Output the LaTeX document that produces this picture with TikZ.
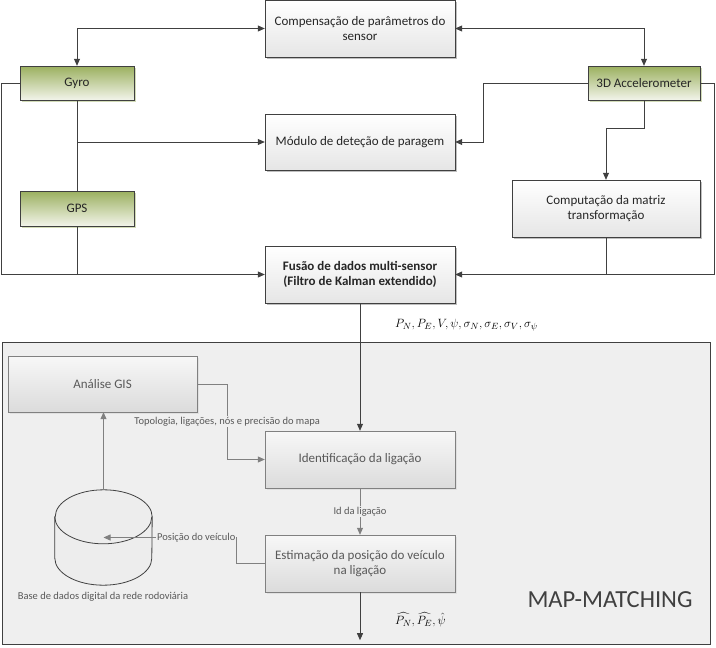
\documentclass[tikz,border=0pt]{standalone}
\usepackage{fontspec}
\setmainfont{Carlito}
\usepackage{amsmath}
\usetikzlibrary{arrows.meta,shadows}
\definecolor{linha}{HTML}{404040}
\definecolor{cinza}{HTML}{808080}
\definecolor{oliva}{HTML}{9BB05F}
\definecolor{olivaclaro}{HTML}{F2F4EA}
\definecolor{fundo}{HTML}{EFEFEF}
\tikzset{
    bloco/.style={draw=linha, top color=white, bottom color=black!10, text=black!85,
        minimum width=190pt, minimum height=57pt, align=center, font=\fontsize{13}{15.5}\selectfont,
        drop shadow={shadow xshift=2pt, shadow yshift=-2pt, fill=black!25, opacity=1}}, % caixas principais
    sensor/.style={bloco, top color=oliva, bottom color=olivaclaro, minimum width=114pt, minimum height=34pt,
        drop shadow={shadow xshift=2pt, shadow yshift=-2pt, fill=oliva!45, opacity=1}}, % sensores
    interno/.style={bloco, draw=cinza, top color=black!3, bottom color=black!14, text=black!65,
        drop shadow={shadow xshift=2pt, shadow yshift=-2pt, fill=black!12, opacity=1}}, % caixas do map-matching
    seta/.style={draw=linha, thick, -{Triangle[length=7pt,width=6pt]}},
    dupla/.style={draw=linha, thick, {Triangle[length=7pt,width=6pt]}-{Triangle[length=7pt,width=6pt]}},
    linha/.style={draw=linha, thick},
    gseta/.style={draw=cinza, thick, -{Triangle[length=7pt,width=6pt]}},
    rotulo/.style={fill=fundo, inner sep=1pt, text=black!65, font=\fontsize{10.5}{12}\selectfont},
    formula/.style={anchor=west, inner sep=0pt, font=\fontsize{13}{15}\selectfont}
}

\begin{document}
\begin{tikzpicture}[x=1pt, y=-1pt]
    \useasboundingbox (0,0) rectangle (716,648);

    % bloco do map-matching
    \node[draw=linha, fill=fundo, minimum width=708pt, minimum height=302pt, inner sep=0pt] (mm) at (356,493) {};
    \node[text=black!75, font=\fontsize{24.5}{28}\selectfont] (mmtxt) at (610,600) {MAP-MATCHING};

    % sensores e processamento
    \node[bloco] (comp) at (360,28.5) {Compensação de parâmetros do\\sensor};
    \node[sensor] (gyro) at (77,83) {Gyro};
    \node[sensor, minimum width=112pt] (acc) at (644,83) {3D Accelerometer};
    \node[bloco, minimum height=56pt] (mod) at (360,142) {Módulo de deteção de paragem};
    \node[sensor, minimum height=35pt] (gps) at (77,208.5) {GPS};
    \node[bloco, minimum width=188pt] (mat) at (606,208.5) {Computação da matriz\\transformação};
    \node[bloco, font=\fontsize{13}{15.5}\selectfont\bfseries] (fus) at (360,274.5) {Fusão de dados multi-sensor\\(Filtro de Kalman extendido)};

    \draw[dupla] (gyro.north) |- (comp.west);
    \draw[dupla] (acc.north) |- (comp.east);
    \draw[linha] (gyro.south) -- (gps.north);
    \draw[seta] (gyro.south |- mod.west) -- (mod.west);
    \draw[seta] (gyro.west) -- ++(-18,0) |- (fus.west);
    \draw[linha] (gps.south) -- (gps.south |- fus.west);
    \draw[seta] (acc.west) -- ++(-104,0) |- (mod.east);
    \draw[seta] (acc.south) -- ++(0,28) -| (mat.north);
    \draw[seta] (acc.east) -- ++(14,0) |- (fus.east);
    \draw[linha] (mat.south) -- (mat.south |- fus.east);

    % dentro do map-matching
    \node[interno, minimum width=189pt, minimum height=56pt] (gis) at (102.5,384) {Análise GIS};
    \node[interno] (ident) at (360,459.5) {Identificação da ligação};
    \node[interno] (est) at (360,563.5) {Estimação da posição do veículo\\na ligação};
    % base de dados (cilindro)
    \node[minimum width=97pt, minimum height=95pt, inner sep=0pt] (db) at (103.5,537.5) {};
    \draw[draw=linha, thick, fill=black!7] ([yshift=-27pt]db.north west) -- ([yshift=27pt]db.south west)
        arc[start angle=180, end angle=360, x radius=48.5pt, y radius=27pt] -- ([yshift=-27pt]db.north east)
        arc[start angle=0, end angle=180, x radius=48.5pt, y radius=27pt] -- cycle;
    \draw[draw=linha, thick] ([yshift=-27pt]db.north west) arc[start angle=180, end angle=360, x radius=48.5pt, y radius=27pt];
    \node[rotulo, fill=none] (dbtxt) at (103,597) {Base de dados digital da rede rodoviária};

    \draw[seta] (fus.south) -- (ident.north);
    \node[formula] (saidafus) at (395,325) {$P_N, P_E, V, \psi, \sigma_N, \sigma_E, \sigma_V, \sigma_\psi$};
    \draw[gseta] (gis.east) -- ++(30,0) |- node[rotulo, pos=0.25] {Topologia, ligações, nós e precisão do mapa} (ident.west);
    \draw[gseta] (ident.south) -- node[rotulo] {Id da ligação} (est.north);
    \draw[gseta] (est.west) -- ++(-28,0) |- node[rotulo, pos=0.5, anchor=east] {Posição do veículo} (db.center);
    \draw[gseta] (db.north) -- (db.north |- gis.south);
    \draw[seta] (est.south) -- ++(0,48) coordinate (saida);
    \node[formula] (saidamm) at (395,620) {$\widehat{P_N}, \widehat{P_E}, \hat{\psi}$};
\end{tikzpicture}
\end{document}
